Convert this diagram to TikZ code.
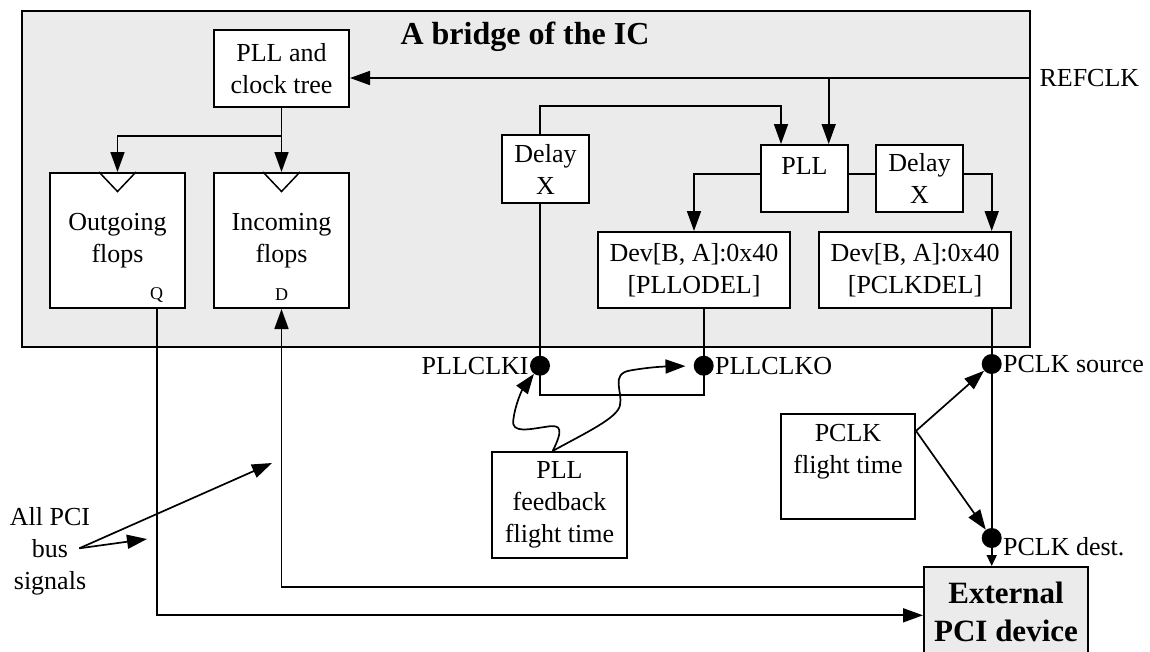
\documentclass[tikz,border=0pt]{standalone}
\usepackage{fontspec}
\setmainfont{Liberation Serif}
\usetikzlibrary{arrows.meta,calc}
\definecolor{bggray}{HTML}{EBEBEB}
\begin{document}
\begin{tikzpicture}[x=1pt,y=-1pt,
  font=\fontsize{26}{32}\selectfont,
  box/.style={draw, fill=white, line width=2pt, inner sep=0pt, align=center},
  conn/.style={line width=1.7pt},
  arr/.style={conn, -{Triangle[length=20pt,width=14pt]}},
  arrsmall/.style={conn, -{Triangle[length=11pt,width=10pt]}},
  dot/.style={circle, fill=black, inner sep=0pt, minimum size=20pt},
  boldtxt/.style={font=\fontsize{31}{38}\selectfont\bfseries, align=center}]
\useasboundingbox (0,0) rectangle (1150,651);

% outer block
\node[draw, fill=bggray, line width=2pt, minimum width=1008pt, minimum height=336pt, inner sep=0pt] (bridge) at (526,179) {};
\node[font=\fontsize{32}{38}\selectfont\bfseries] (title) at (525,37) {A bridge of the IC};

% boxes
\node[box, minimum width=135pt, minimum height=77pt] (tree) at (281.5,68.5) {PLL and\\clock tree};
\node[box, minimum width=135pt, minimum height=135pt] (outf) at (117.5,240.5) {Outgoing\\flops};
\node[box, minimum width=135pt, minimum height=135pt] (incf) at (281.5,240.5) {Incoming\\flops};
\draw[line width=1.5pt] ($(outf.north)+(-18.5,0)$) -- ($(outf.north)+(0,19.5)$) -- ($(outf.north)+(18.5,0)$);
\draw[line width=1.5pt] ($(incf.north)+(-18.5,0)$) -- ($(incf.north)+(0,19.5)$) -- ($(incf.north)+(18.5,0)$);
\node[font=\fontsize{18}{20}\selectfont] (q) at (156.7,295) {Q};
\node[font=\fontsize{18}{20}\selectfont] (d) at (281.5,295) {D};

\node[box, minimum width=87pt, minimum height=68pt] (dlyL) at (545.5,169) {Delay\\X};
\node[box, minimum width=87pt, minimum height=67pt] (pll) at (804.5,178.5) {};
\node (pllt) at (804.5,166) {PLL};
\node[box, minimum width=87pt, minimum height=67pt] (dlyR) at (919.5,178.5) {Delay\\X};
\node[box, minimum width=192pt, minimum height=76pt] (devO) at (694,270) {Dev[B, A]:0x40\\{}[PLLODEL]};
\node[box, minimum width=192pt, minimum height=76pt] (devP) at (915,270) {Dev[B, A]:0x40\\{}[PCLKDEL]};
\node[box, minimum width=135pt, minimum height=106pt] (fbft) at (559.5,505) {PLL\\feedback\\flight time};
\node[box, minimum width=134pt, minimum height=105pt] (pcft) at (848,466.7) {};
\node[align=center] (pcftt) at (848,452) {PCLK\\flight time};
\node[box, fill=bggray, boldtxt, minimum width=164pt, minimum height=89pt] (ext) at (1006,611.5) {External\\PCI device};

% dots
\node[dot] (dI) at (540,365.7) {};
\node[dot] (dO) at (703.7,365.7) {};
\node[dot] (dS) at (991.7,364) {};
\node[dot] (dD) at (991.7,538) {};

% labels
\node[anchor=west] (refl) at (1036,78) {REFCLK};
\node[anchor=east, inner sep=1pt] (lI) at (dI.west) {PLLCLKI};
\node[anchor=west, inner sep=1pt] (lO) at (dO.east) {PLLCLKO};
\node[anchor=west, inner sep=1pt] (lS) at (dS.east) {PCLK source};
\node[anchor=west, inner sep=1pt] (lD) at ($(dD.east)+(0,9)$) {PCLK dest.};
\node[align=center] (pcil) at (50,551) {All PCI\\bus\\signals};

% coordinates
\coordinate (rc) at (1030,78);
\coordinate (pllin1) at ($(pll.north)+(-23.5,0)$);
\coordinate (pllin2) at ($(pll.north)+(24.2,0)$);
\coordinate (br) at ($(tree.south)+(0,28)$);
\coordinate (pin) at ($(devP.north)+(76.7,0)$);
\coordinate (pcs) at ($(pcft.north east)+(0,17.7)$);
\coordinate (ps) at (79.3,548.3);
\coordinate (pe1) at (272,463);
\coordinate (pe2) at (147,539);
\coordinate (fs) at ($(fbft.north)+(-6.8,0)$);

% connectors
\draw[arr] (rc) -- (tree.east |- rc);
\draw[arr] (pllin2 |- rc) -- (pllin2);
\draw[conn] (tree.south) -- (br);
\draw[arr] (br) -- (incf.north);
\draw[arr] (br) -| (outf.north);
\draw[arr] (dlyL.north -| dI) -- ++(0,-28.3) -| (pllin1);
\draw[conn] (dlyL.south -| dI) -- (dI.center);
\draw[arr] ($(pll.west)+(0,-4.5)$) -| (devO.north);
\draw[conn] ($(pll.east)+(0,-4.5)$) -- ($(dlyR.west)+(0,-4.5)$);
\draw[arr] ($(dlyR.east)+(0,-4.5)$) -| (pin);
\draw[conn] (devO.south -| dO) -- (dO.center);
\draw[conn] (devP.south -| dS) -- (dD.center);
\draw[arrsmall] (dD.center) -- (ext.north -| dD);
\draw[conn] (dI.center) -- ++(0,29.3) -| (dO.center);
\draw[arr] (outf.south -| q) |- ($(ext.west)+(0,3.8)$);
\draw[arr] ($(ext.west)+(0,-24.8)$) -| (incf.south);
\draw[arr] (pcs) -- (dS);
\draw[arr] (pcs) -- (dD);
\draw[arr] (ps) -- (pe1);
\draw[arr] (ps) -- (pe2);
\draw[arr] (fs) .. controls (563,430) and (562,424) .. (546.7,426.7)
  .. controls (530,429) and (511,434) .. (513.3,420)
  .. controls (515,405) and (522,390) .. (dI);
\draw[arr, shorten >=8pt] (fs) .. controls (585,433) and (618,418) .. (620,405)
  .. controls (623,392) and (610,374) .. (630,370.5)
  .. controls (650,367) and (665,366.5) .. (dO);
\end{tikzpicture}
\end{document}
